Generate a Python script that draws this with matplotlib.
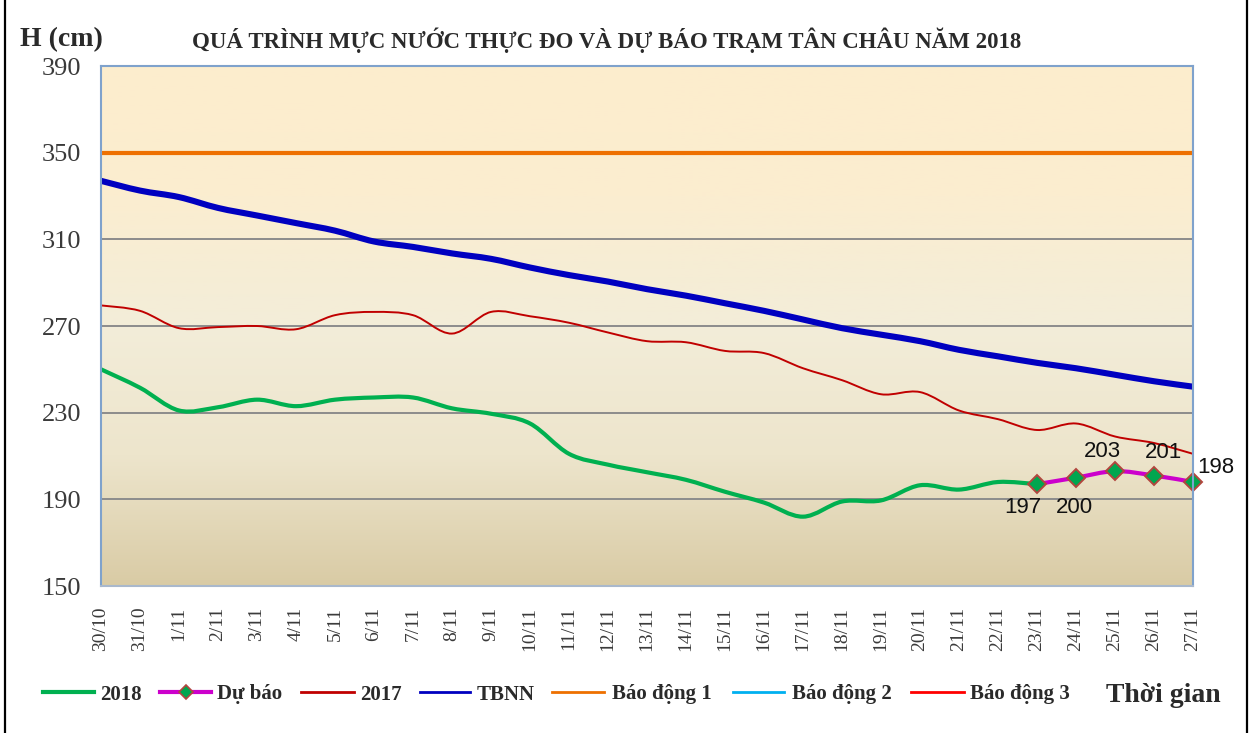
import numpy as np
import matplotlib
matplotlib.use('Agg')
import matplotlib.pyplot as plt
from matplotlib.path import Path
from matplotlib.patches import PathPatch
from matplotlib.lines import Line2D
from matplotlib.colors import LinearSegmentedColormap

# ---------------- data ----------------
dates = ['30/10', '31/10', '1/11', '2/11', '3/11', '4/11', '5/11', '6/11', '7/11',
         '8/11', '9/11', '10/11', '11/11', '12/11', '13/11', '14/11', '15/11',
         '16/11', '17/11', '18/11', '19/11', '20/11', '21/11', '22/11', '23/11',
         '24/11', '25/11', '26/11', '27/11']

h2018 = [250, 241.5, 231, 232.5, 236, 233, 236, 237, 237, 232, 229.5, 225, 211,
         206, 202.5, 199, 193.5, 188.5, 182, 189, 189.5, 196.5, 194.5, 198, 197]

forecast_dates = ['23/11', '24/11', '25/11', '26/11', '27/11']
forecast = [197, 200, 203, 201, 198]

h2017 = [279.5, 277, 269, 269.5, 270, 268.5, 275, 276.5, 275, 266.5, 276.5, 274.5,
         271.5, 267, 263, 262.5, 258.5, 257.5, 250.5, 245, 238.5, 239.5, 231, 227,
         222, 225, 219, 216, 211]

tbnn = [337, 332.5, 329.5, 324.5, 321, 317.5, 314, 309, 306.5, 303.5, 301, 297,
        293.5, 290.5, 287, 284, 280.5, 277, 273, 269, 266, 263, 259, 256, 253,
        250.5, 247.5, 244.5, 242]

bd1 = 350
bd2 = 400
bd3 = 450

yticks = [150, 190, 230, 270, 310, 350, 390]

# ---------------- style ----------------
c2018 = '#00B050'
cfc = '#CC00CC'
c2017 = '#C00000'
ctb = '#0000C0'
cbd1 = '#EE7000'
cbd2 = '#00B0F0'
cbd3 = '#FF0000'
txtc = '#3A3A3A'
serif = ['Liberation Serif', 'DejaVu Serif']
sans = ['Liberation Sans', 'DejaVu Sans']

W, H = 1256, 733
fig = plt.figure(figsize=(W / 100, H / 100), dpi=100)
L, R, T, B = 101, 1193, 66, 586
ax = fig.add_axes([L / W, 1 - B / H, (R - L) / W, (B - T) / H])

idx = {d: i for i, d in enumerate(dates)}
x_all = np.arange(len(dates))


def smooth_path(xs, ys):
    xs = np.asarray(xs, float)
    ys = np.asarray(ys, float)
    P = np.column_stack([xs, ys])
    verts = [P[0]]
    codes = [Path.MOVETO]
    n = len(P)
    for i in range(n - 1):
        p0 = P[i - 1] if i > 0 else P[i]
        p1 = P[i]
        p2 = P[i + 1]
        p3 = P[i + 2] if i + 2 < n else P[i + 1]
        c1 = p1 + (p2 - p0) / 6.0
        c2 = p2 - (p3 - p1) / 6.0
        verts += [c1, c2, p2]
        codes += [Path.CURVE4] * 3
    return Path(verts, codes)


def add_smooth(xs, ys, color, lw, z):
    patch = PathPatch(smooth_path(xs, ys), fill=False, edgecolor=color, lw=lw,
                      capstyle='round', joinstyle='round', zorder=z)
    ax.add_patch(patch)


ax.set_xlim(0, len(dates) - 1)
ax.set_ylim(150, 390)

# gradient background
cmap = LinearSegmentedColormap.from_list('bg', ['#D9CBA5', '#EDE5CC', '#F3EDD9', '#FBEDD0', '#FDEDCD'])
grad = np.linspace(0, 1, 256).reshape(-1, 1)
ax.imshow(grad, cmap=cmap, aspect='auto', extent=[0, 1, 0, 1], origin='lower',
          transform=ax.transAxes, zorder=0)

# grid
for yv in yticks[1:-1]:
    ax.axhline(yv, color='#8C8C8C', lw=1.4, zorder=1)

# series
ax.plot(x_all, [bd2] * len(dates), color=cbd2, lw=2.5, zorder=2)
ax.plot(x_all, [bd3] * len(dates), color=cbd3, lw=2.5, zorder=2)
ax.plot(x_all, [bd1] * len(dates), color=cbd1, lw=3.0, zorder=3)
add_smooth(x_all, tbnn, ctb, 4.4, 4)
add_smooth(x_all, h2017, c2017, 1.4, 4)
add_smooth(np.arange(len(h2018)), h2018, c2018, 3.0, 5)
fx = [idx[d] for d in forecast_dates]
add_smooth(fx, forecast, cfc, 3.0, 6)
ax.plot(fx, forecast, linestyle='none', marker='D', markersize=9,
        markerfacecolor='#00A64F', markeredgecolor='#B2463E', markeredgewidth=1.4,
        zorder=7, clip_on=False)

label_offsets = [(-14, -23), (-2, -30), (-13, 20), (10, 23), (4, 15)]
label_ha = ['center', 'center', 'center', 'center', 'left']
for xv, yv, off, ha in zip(fx, forecast, label_offsets, label_ha):
    ax.annotate(str(yv), (xv, yv), xytext=off, textcoords='offset pixels',
                ha=ha, va='center', fontsize=16, family=sans, color='#111111',
                zorder=8, annotation_clip=False)

# axes styling
for s in ['top', 'right', 'left', 'bottom']:
    ax.spines[s].set_color('#7FA2CC')
    ax.spines[s].set_linewidth(1.5)
    ax.spines[s].set_zorder(9)
ax.spines['bottom'].set_color('#A9B8CC')

ax.set_yticks(yticks)
ax.set_yticklabels([str(v) for v in yticks], fontsize=19, family=serif, color=txtc)
ax.set_xticks(x_all)
ax.set_xticklabels(dates, rotation=90, fontsize=14, family=serif, color=txtc,
                   va='top', ha='center')
ax.tick_params(axis='y', length=0, pad=14)
ax.tick_params(axis='x', length=0, pad=15)

# titles
fig.text(20 / W, 1 - 40 / H, 'H (cm)', fontsize=20, fontweight='bold', family=serif,
         color='#2A2A2A', ha='left', va='center')
fig.text(607 / W, 1 - 40 / H,
         'QUÁ TRÌNH MỰC NƯỚC THỰC ĐO VÀ DỰ BÁO TRẠM TÂN CHÂU NĂM 2018',
         fontsize=16.5, fontweight='bold', family=serif, color='#2A2A2A',
         ha='center', va='center')

# legend (manual)
ly = 1 - 692 / H
legend_items = [
    ('2018', c2018, 3.0, None, 43, 94, 100),
    ('Dự báo', cfc, 3.0, 'D', 160, 211, 217),
    ('2017', c2017, 2.0, None, 301, 354, 360),
    ('TBNN', ctb, 2.0, None, 420, 470, 477),
    ('Báo động 1', cbd1, 2.0, None, 552, 604, 612),
    ('Báo động 2', cbd2, 2.0, None, 733, 784, 792),
    ('Báo động 3', cbd3, 2.0, None, 911, 964, 970),
]
for name, col, lw, mk, x0, x1, xt in legend_items:
    fig.add_artist(Line2D([x0 / W, x1 / W], [ly, ly], color=col, lw=lw,
                          transform=fig.transFigure))
    if mk:
        fig.add_artist(Line2D([(x0 + x1) / 2 / W], [ly], marker='D', markersize=7,
                              markerfacecolor='#00A64F', markeredgecolor='#B2463E',
                              markeredgewidth=1.2, transform=fig.transFigure))
    fig.text(xt / W, ly, name, fontsize=15, fontweight='bold', family=serif,
             color='#2A2A2A', ha='left', va='center_baseline')
fig.text(1106 / W, ly, 'Thời gian', fontsize=20, fontweight='bold', family=serif,
         color='#2A2A2A', ha='left', va='center_baseline')

# outer frame lines
fig.add_artist(Line2D([5 / W, 5 / W], [0, 1], color='black', lw=1.6, transform=fig.transFigure))
fig.add_artist(Line2D([1247 / W, 1247 / W], [0, 1], color='black', lw=1.6, transform=fig.transFigure))

fig.savefig('out.png', dpi=100, facecolor='white')
